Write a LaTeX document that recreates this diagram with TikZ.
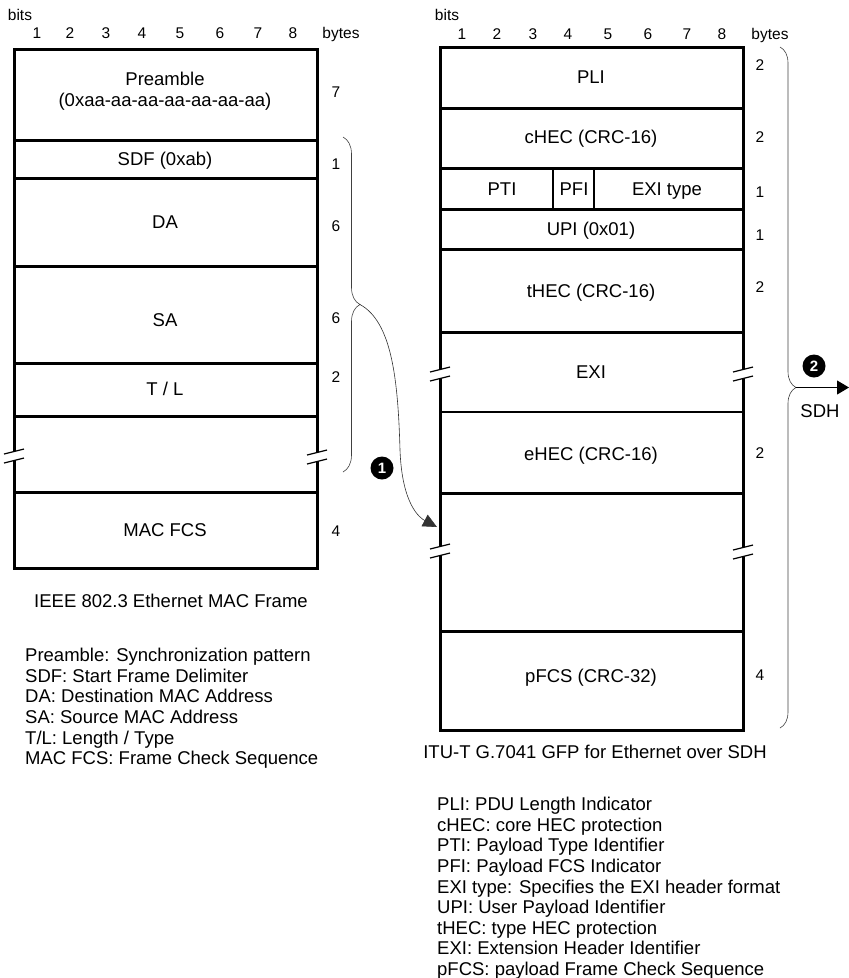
\documentclass[tikz,border=0pt]{standalone}
\usepackage{fontspec}
\setmainfont{Liberation Sans}
\usetikzlibrary{arrows.meta, decorations.pathreplacing}

\begin{document}
\begin{tikzpicture}[
  x=1pt, y=-1pt,
  every node/.style={font=\fontsize{18.5}{21}\selectfont, inner sep=0pt},
  smalltxt/.style={font=\fontsize{15.5}{18}\selectfont, text height=11pt, text depth=0pt},
  field/.style={text height=13pt, text depth=0pt},
  legend/.style={anchor=west, text height=13.5pt, text depth=0pt},
  frame/.style={line width=3pt},
  fine/.style={line width=1.1pt},
  brk/.style={line width=1.2pt},
  curly/.style={decorate, decoration={brace, amplitude=#1}, line width=0.6pt, black!75},
  link/.style={line width=0.6pt, black!80, -{Triangle[length=14pt, width=13pt]}},
  marker/.style={circle, fill=black, text=white, minimum size=23pt,
                 font=\fontsize{15}{17}\selectfont\bfseries},
]
\useasboundingbox (0,0) rectangle (849,978);

% Ethernet MAC frame
\draw[frame] (14,49) rectangle (317,568);
\foreach \yy in {140,178,266,363,416,492}
  \draw[frame] (14,\yy) -- (317,\yy);

\node[smalltxt] (lbits) at (20,15) {bits};
\foreach \x [count=\i] in {37,70,106,142,180,220,258,293}
  \node[smalltxt] (lb\i) at (\x,33) {\i};
\node[smalltxt] (lbytes) at (341,33) {bytes};

\node[align=center] (pre) at (165,91) {Preamble\\(0xaa-aa-aa-aa-aa-aa-aa)};
\node[field] (sdf) at (165,159) {SDF (0xab)};
\node[field] (da) at (165,222) {DA};
\node[field] (sa) at (165,320) {SA};
\node[field] (tl) at (165,389) {T / L};
\node[field] (fcs) at (165,530) {MAC FCS};

\foreach \y/\n [count=\i] in {92/7,164/1,226/6,318/6,377/2,531/4}
  \node[smalltxt] (lc\i) at (336,\y) {\n};

% GFP frame
\draw[frame] (440,47) rectangle (743,730);
\foreach \yy in {108,168,209,249,332,493,631}
  \draw[frame] (440,\yy) -- (743,\yy);
\draw[fine] (440,412) -- (743,412);
\draw[fine] (553,168) -- (553,209) (594,168) -- (594,209);

\node[smalltxt] (rbits) at (447,15) {bits};
\foreach \x [count=\i] in {462,497,533,568,608,648,687,722}
  \node[smalltxt] (rb\i) at (\x,34) {\i};
\node[smalltxt] (rbytes) at (770,34) {bytes};

\node[field] (pli) at (591,77) {PLI};
\node[field] (chec) at (591,137) {cHEC (CRC-16)};
\node[field] (pti) at (502,189) {PTI};
\node[field] (pfi) at (574,189) {PFI};
\node[field] (exitype) at (667,189) {EXI type};
\node[field] (upi) at (591,229) {UPI (0x01)};
\node[field] (thec) at (591,291) {tHEC (CRC-16)};
\node[field] (exi) at (591,372) {EXI};
\node[field] (ehec) at (591,454) {eHEC (CRC-16)};
\node[field] (pfcs) at (591,676) {pFCS (CRC-32)};

\foreach \y/\n [count=\i] in {65/2,137/2,192/1,235/1,287/2,453/2,675/4}
  \node[smalltxt] (rc\i) at (760,\y) {\n};

% break marks
\foreach \bx/\by in {14/456, 317/457, 440/374, 743/374, 440/551, 743/552} {
  \fill[white] (\bx-10,\by-2) -- (\bx+10,\by-7) -- (\bx+10,\by+2) -- (\bx-10,\by+7) -- cycle;
  \draw[brk] (\bx-10,\by-2) -- (\bx+10,\by-7) (\bx-10,\by+7) -- (\bx+10,\by+2);
}

% braces and arrows
\coordinate (lbtop) at (343,137);
\coordinate (lbbot) at (343,472);
\coordinate (ltip) at (360,304.5);
\draw[curly=17] (lbtop) -- (lbbot);
\coordinate (parrow) at (437,527);
\draw[link] (ltip) .. controls (392,322) and (398,380) .. (400,450)
  .. controls (402,505) and (420,518) .. (parrow);
\node[marker] (m1) at (382,468) {1};

\coordinate (rbtop) at (780,47);
\coordinate (rbbot) at (780,728);
\coordinate (rtip) at (796,387.5);
\draw[curly=16] (rbtop) -- (rbbot);
\coordinate (sdh) at (849,387.5);
\draw[line width=1pt, -{Triangle[length=12pt, width=14pt]}] (rtip) -- (sdh);
\node[marker] (m2) at (814,366) {2};
\node[field] (sdhlbl) at (820,411) {SDH};

% titles and legends
\node[field] (ltitle) at (171,601) {IEEE 802.3 Ethernet MAC Frame};
\node[field] (rtitle) at (595,752) {ITU-T G.7041 GFP for Ethernet over SDH};

\foreach \txt [count=\i] in {Preamble: Synchronization pattern, SDF: Start Frame Delimiter,
    DA: Destination MAC Address, SA: Source MAC Address, T/L: Length / Type,
    MAC FCS: Frame Check Sequence}
  \node[legend] (ll\i) at (25,{655+20.6*(\i-1)}) {\txt};

\foreach \txt [count=\i] in {PLI: PDU Length Indicator, cHEC: core HEC protection,
    PTI: Payload Type Identifier, PFI: Payload FCS Indicator,
    EXI type: Specifies the EXI header format, UPI: User Payload Identifier,
    tHEC: type HEC protection, EXI: Extension Header Identifier,
    pFCS: payload Frame Check Sequence}
  \node[legend] (rl\i) at (437,{804+20.6*(\i-1)}) {\txt};
\end{tikzpicture}
\end{document}
